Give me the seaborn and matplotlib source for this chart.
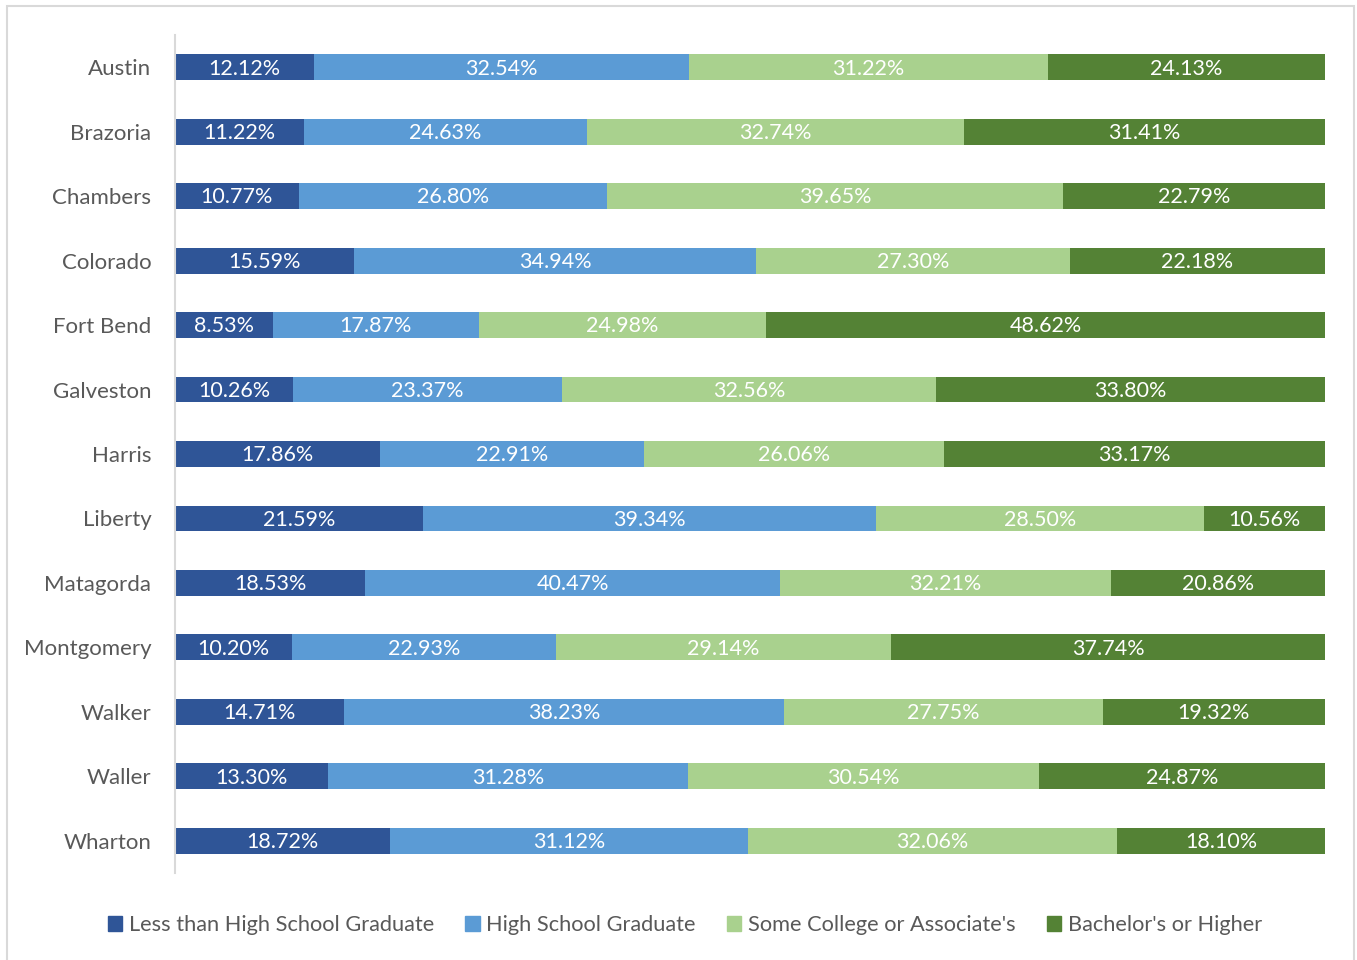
import matplotlib
matplotlib.use("Agg")
import matplotlib.pyplot as plt
import matplotlib.patches as mpatches
import numpy as np
import pandas as pd
import seaborn as sns

counties = ["Austin", "Brazoria", "Chambers", "Colorado", "Fort Bend", "Galveston",
            "Harris", "Liberty", "Matagorda", "Montgomery", "Walker", "Waller", "Wharton"]
less_than_hs = [12.12, 11.22, 10.77, 15.59, 8.53, 10.26, 17.86, 21.59, 18.53, 10.20, 14.71, 13.30, 18.72]
hs_graduate = [32.54, 24.63, 26.80, 34.94, 17.87, 23.37, 22.91, 39.34, 40.47, 22.93, 38.23, 31.28, 31.12]
some_college = [31.22, 32.74, 39.65, 27.30, 24.98, 32.56, 26.06, 28.50, 32.21, 29.14, 27.75, 30.54, 32.06]
bachelors = [24.13, 31.41, 22.79, 22.18, 48.62, 33.80, 33.17, 10.56, 20.86, 37.74, 19.32, 24.87, 18.10]

series_names = ["Less than High School Graduate", "High School Graduate",
                "Some College or Associate's", "Bachelor's or Higher"]
series_values = [less_than_hs, hs_graduate, some_college, bachelors]
colors = ["#2F5597", "#5B9BD5", "#A9D18E", "#548235"]

sns.set_theme(style="white")
plt.rcParams["font.family"] = ["Lato", "DejaVu Sans"]
text_gray = "#595959"

fig = plt.figure(figsize=(13.57, 9.6), dpi=100)
ax = fig.add_axes([175 / 1357, 1 - 873 / 960, 1150 / 1357, 838 / 960])

# 100% stacked: each row is scaled by its own total
row_totals = np.sum(np.array(series_values), axis=0)
left = np.zeros(len(counties))
ypos = np.arange(len(counties))
for name, vals, col in zip(series_names, series_values, colors):
    share = np.array(vals) / row_totals * 100
    df = pd.DataFrame({"county": counties, "share": share})
    sns.barplot(data=df, x="share", y="county", orient="h", color=col, saturation=1,
                width=0.4, left=left, ax=ax, linewidth=0)
    for y, l, s, v in zip(ypos, left, share, vals):
        ax.text(l + s / 2, y + 0.02, f"{v:.2f}%", ha="center", va="center",
                color="white", fontsize=15.5)
    left = left + share

ax.set_xlim(0, 100)
ax.set_ylim(len(counties) - 0.5, -0.5)
ax.set_xlabel("")
ax.set_ylabel("")
ax.set_xticks([])
ax.tick_params(axis="y", length=0, pad=17, labelsize=16, labelcolor=text_gray)
for s in ["top", "right", "bottom"]:
    ax.spines[s].set_visible(False)
ax.spines["left"].set_color("#D9D9D9")
ax.spines["left"].set_linewidth(1.5)

handles = [mpatches.Patch(color=c, label=n) for n, c in zip(series_names, colors)]
fig.legend(handles=handles, loc="center", bbox_to_anchor=(685 / 1357, 1 - 925 / 960),
           ncol=4, frameon=False, fontsize=15.7, labelcolor=text_gray,
           handlelength=0.65, handleheight=0.65, handletextpad=0.3, columnspacing=1.45)

border = mpatches.Rectangle((7 / 1357, -0.05), 1347 / 1357, 1.05 - 6 / 960,
                            transform=fig.transFigure, fill=False,
                            edgecolor="#D9D9D9", linewidth=1.5)
fig.patches.append(border)

fig.savefig("out.png", dpi=100, facecolor="white")
